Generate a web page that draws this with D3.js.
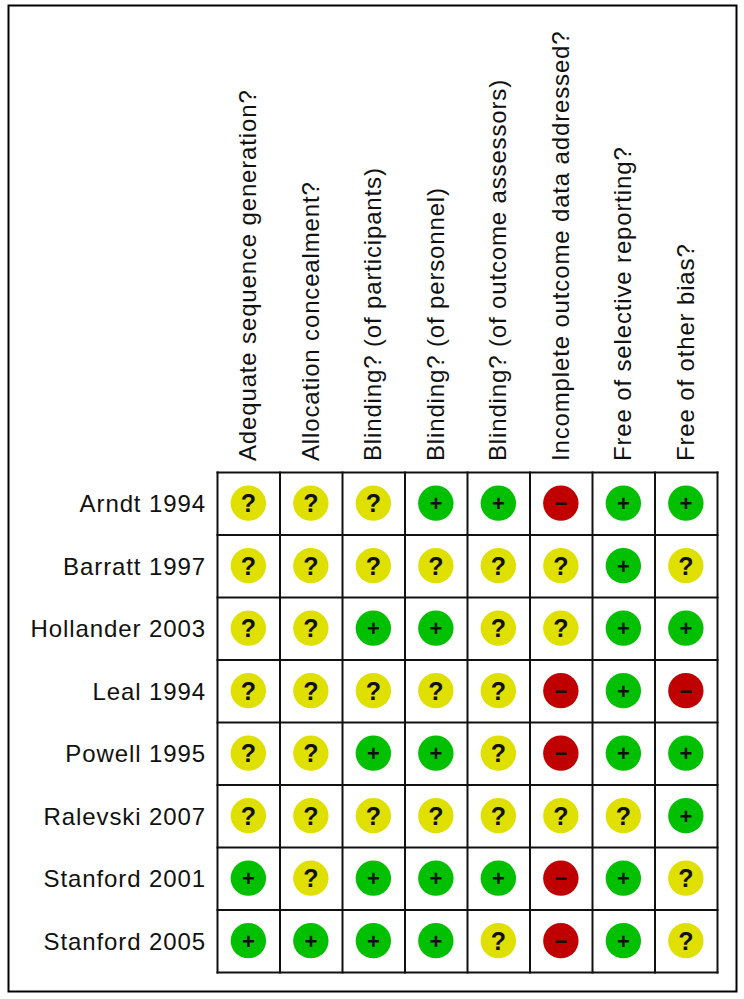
<!DOCTYPE html>
<html><head><meta charset="utf-8">
<script src="https://cdn.jsdelivr.net/npm/d3@7"></script>
<style>html,body{margin:0;padding:0;background:#fff}svg{display:block}</style>
</head><body><div id="c"></div>
<script>
const studies = ["Arndt 1994","Barratt 1997","Hollander 2003","Leal 1994","Powell 1995","Ralevski 2007","Stanford 2001","Stanford 2005"];
const domains = ["Adequate sequence generation?","Allocation concealment?","Blinding? (of participants)","Blinding? (of personnel)","Blinding? (of outcome assessors)","Incomplete outcome data addressed?","Free of selective reporting?","Free of other bias?"];
const judgements = [
 "???++-++",
 "??????+?",
 "??++??++",
 "?????-+-",
 "??++?-++",
 "???????+",
 "+?+++-+?",
 "++++?-+?"
];
const colours = {"+":"#00c000","?":"#e0e000","-":"#c00000"};
const glyphs = {"+":"+","?":"?","-":"\u2212"};
const W=744,H=999;
const svg=d3.select("#c").append("svg").attr("width",W).attr("height",H);
svg.append("rect").attr("x",8.5).attr("y",5.5).attr("width",728).attr("height",986).attr("fill","#fff").attr("stroke","#000").attr("stroke-width",2);
const x=d3.scaleBand().domain(domains).range([217.5,717.5]);
const y=d3.scaleBand().domain(studies).range([472.5,972.5]);
const font="'Liberation Sans',Arial,sans-serif";
svg.append("g").selectAll("line").data(domains.concat([null])).join("line")
 .attr("x1",d=>d===null?x.range()[1]:x(d)).attr("x2",d=>d===null?x.range()[1]:x(d))
 .attr("y1",y.range()[0]-1).attr("y2",y.range()[1]+1).attr("stroke","#111").attr("stroke-width",2);
svg.append("g").selectAll("line").data(studies.concat([null])).join("line")
 .attr("y1",d=>d===null?y.range()[1]:y(d)).attr("y2",d=>d===null?y.range()[1]:y(d))
 .attr("x1",x.range()[0]-1).attr("x2",x.range()[1]+1).attr("stroke","#111").attr("stroke-width",2);
svg.append("g").selectAll("text").data(studies).join("text")
 .attr("x",206).attr("y",d=>y(d)+y.bandwidth()/2).attr("dy","0.35em").attr("text-anchor","end")
 .attr("font-family",font).attr("font-size",24).attr("letter-spacing",0.9).attr("fill","#111").text(d=>d);
svg.append("g").selectAll("text").data(domains).join("text")
 .attr("transform",d=>`translate(${x(d)+x.bandwidth()/2-1},461) rotate(-90)`)
 .attr("dy","0.35em").attr("font-family",font).attr("font-size",24).attr("letter-spacing",0.85).attr("fill","#111").text(d=>d);
const cells=studies.flatMap((s,i)=>domains.map((d,j)=>({s,d,v:judgements[i][j]})));
const g=svg.append("g").selectAll("g").data(cells).join("g")
 .attr("transform",c=>`translate(${x(c.d)+x.bandwidth()/2-0.4},${y(c.s)+y.bandwidth()/2-0.6})`);
g.append("circle").attr("r",17.7).attr("fill",c=>colours[c.v]);
g.append("text").attr("text-anchor","middle").attr("dy","0.36em").attr("font-family",font).attr("font-weight","bold")
 .attr("font-size",c=>c.v==="?"?25:22).attr("fill","#111").text(c=>glyphs[c.v]);
</script></body></html>
